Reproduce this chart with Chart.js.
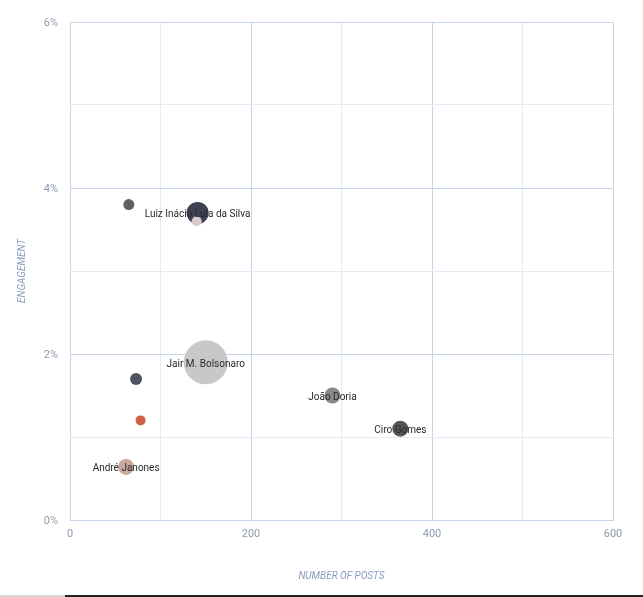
<!DOCTYPE html>
<html>
<head>
<meta charset="utf-8">
<script src="https://cdn.jsdelivr.net/npm/chart.js@4"></script>
<style>
  html, body { margin: 0; padding: 0; background: #fff; }
  #wrap { position: relative; width: 643px; height: 597px; }
  #bar1 { position: absolute; left: 0; top: 595px; width: 65px; height: 2px; background: #d8d8d8; }
  #bar2 { position: absolute; left: 65px; top: 595px; width: 578px; height: 2px; background: #222; }
</style>
</head>
<body>
<div id="wrap">
  <canvas id="c" width="643" height="597"></canvas>
  <div id="bar1"></div><div id="bar2"></div>
</div>
<script>
const names = ["", "Luiz Inácio Lula da Silva", "", "Jair M. Bolsonaro", "", "", "André Janones", "João Doria", "Ciro Gomes"];
const posts = [65, 141, 140, 150, 73, 78, 62, 290, 365];
const engagement = [3.8, 3.7, 3.6, 1.9, 1.7, 1.2, 0.64, 1.5, 1.1];
const radii = [5.5, 11, 5, 22, 6, 5, 8, 8, 8];
const colors = ["#5f6063", "#3f4257", "#dcc9cc", "#c8c8c8", "#50535f", "#d0604a", "#c9a99c", "#8a8a8a", "#555558"];
const xTicks = [0, 200, 400, 600];
const yTicks = [0, 2, 4, 6];

const majorGrid = "#c6d5ea";
const minorGrid = "#e4ebf5";
const tickColor = "#8e9bb0";
const titleColor = "#8a9bc0";

const labelPlugin = {
  id: 'pointLabels',
  afterDatasetsDraw(chart) {
    const ctx = chart.ctx;
    const meta = chart.getDatasetMeta(0);
    ctx.save();
    ctx.font = "10px Roboto";
    ctx.fillStyle = "#2a2a2a";
    ctx.textAlign = "center";
    ctx.textBaseline = "middle";
    meta.data.forEach((el, i) => {
      if (names[i]) ctx.fillText(names[i], el.x, el.y + 2);
    });
    ctx.restore();
  }
};

new Chart(document.getElementById('c'), {
  type: 'bubble',
  data: {
    datasets: [{
      data: posts.map((p, i) => ({ x: p, y: engagement[i], r: radii[i] })),
      backgroundColor: colors,
      borderWidth: 0,
      hoverBorderWidth: 0
    }]
  },
  options: {
    responsive: false,
    animation: false,
    events: [],
    layout: { padding: { top: 22, right: 30, left: 0, bottom: 0 } },
    plugins: { legend: { display: false }, tooltip: { enabled: false } },
    scales: {
      x: {
        type: 'linear', min: 0, max: 600,
        afterFit(s) { s.height = 77; },
        ticks: {
          stepSize: 100, padding: 8, color: tickColor,
          font: { family: 'Roboto', size: 11 },
          callback: v => xTicks.includes(v) ? String(v) : ''
        },
        grid: {
          drawTicks: false,
          color: c => (c.tick && c.tick.value % 200 === 0) ? majorGrid : minorGrid
        },
        border: { color: majorGrid },
        title: {
          display: true, text: 'NUMBER OF POSTS', color: titleColor,
          font: { family: 'Roboto', size: 10, style: 'italic' },
          padding: { top: 15, bottom: 15 }
        }
      },
      y: {
        type: 'linear', min: 0, max: 6,
        afterFit(s) { s.width = 70; },
        ticks: {
          stepSize: 1, padding: 12, color: tickColor, labelOffset: 1,
          font: { family: 'Roboto', size: 11 },
          callback: v => yTicks.includes(v) ? v + '%' : ''
        },
        grid: {
          drawTicks: false,
          color: c => (c.tick && c.tick.value % 2 === 0) ? majorGrid : minorGrid
        },
        border: { color: majorGrid },
        title: {
          display: true, text: 'ENGAGEMENT', color: titleColor,
          font: { family: 'Roboto', size: 10, style: 'italic' },
          padding: { top: 16, bottom: 16 }
        }
      }
    }
  },
  plugins: [labelPlugin]
});
</script>
</body>
</html>
